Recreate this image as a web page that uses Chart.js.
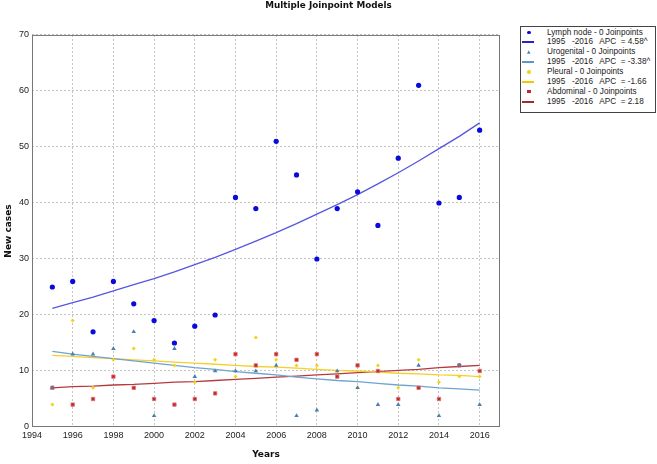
<!DOCTYPE html>
<html>
<head>
<meta charset="utf-8">
<script src="https://cdn.jsdelivr.net/npm/chart.js@4.4.1/dist/chart.umd.min.js"></script>
<style>
  body { margin: 0; background: #fff; }
  #wrap { position: relative; width: 657px; height: 464px; }
  #legend {
    position: absolute; left: 520px; top: 26px; width: 136px; height: 87px;
    border: 1px solid #444; background: #fff;
    font: 8.2px "Liberation Sans", Arial, sans-serif; color: #222;
    padding-top: 0.5px; box-sizing: border-box;
  }
  .row { position: relative; height: 9.9px; line-height: 9.9px; white-space: pre; padding-left: 26px; }
  .mk { position: absolute; left: 6px; top: 3px; width: 3.5px; height: 3.5px; }
  .ln { position: absolute; left: 1px; top: 4px; width: 12px; height: 2px; }
</style>
</head>
<body>
<div id="wrap">
  <canvas id="chart"></canvas>
  <div id="legend"></div>
</div>
<script>
const years = [1995, 1996, 1997, 1998, 1999, 2000, 2001, 2002, 2003, 2004, 2005,
               2006, 2007, 2008, 2009, 2010, 2011, 2012, 2013, 2014, 2015, 2016];

// observed cases
const lymphNode  = [25, 26, 17, 26, 22, 19, 15, 18, 20, 41, 39, 51, 45, 30, 39, 42, 36, 48, 61, 40, 41, 53];
const urogenital = [7, 13, 13, 14, 17, 2, 14, 9, 10, 10, 10, 11, 2, 3, 10, 7, 4, 4, 11, 2, 11, 4];
const pleural    = [4, 19, 7, 12, 14, 12, 11, 8, 12, 9, 16, 12, 11, 11, 10, 7, 11, 7, 12, 8, 9, 9];
const abdominal  = [7, 4, 5, 9, 7, 5, 4, 5, 6, 13, 11, 13, 12, 13, 9, 11, 10, 5, 7, 5, 11, 10];

// fitted joinpoint models (0 joinpoints)
const lymphFit  = [21.2, 22.2, 23.2, 24.3, 25.4, 26.5, 27.7, 29.0, 30.3, 31.7, 33.2,
                   34.7, 36.3, 38.0, 39.7, 41.5, 43.4, 45.4, 47.5, 49.7, 51.9, 54.3];
const uroFit    = [13.5, 13.0, 12.6, 12.2, 11.8, 11.4, 11.0, 10.6, 10.3, 9.9, 9.6,
                   9.3, 8.9, 8.6, 8.3, 8.1, 7.8, 7.5, 7.3, 7.0, 6.8, 6.6];
const pleuralFit = [12.8, 12.6, 12.4, 12.2, 12.0, 11.8, 11.6, 11.4, 11.2, 11.0, 10.8,
                    10.7, 10.5, 10.3, 10.1, 10.0, 9.8, 9.6, 9.5, 9.3, 9.2, 9.0];
const abdFit    = [7.0, 7.2, 7.3, 7.5, 7.6, 7.8, 8.0, 8.1, 8.3, 8.5, 8.7,
                   8.9, 9.1, 9.3, 9.5, 9.7, 9.9, 10.1, 10.3, 10.6, 10.8, 11.0];

const seriesNames = ['Lymph node - 0 Joinpoints', 'Urogenital - 0 Joinpoints',
                     'Pleural - 0 Joinpoints', 'Abdominal - 0 Joinpoints'];
const fitLabels = ['1995   -2016   APC  = 4.58^', '1995   -2016   APC  = -3.38^',
                   '1995   -2016   APC  = -1.66', '1995   -2016   APC  = 2.18'];

const xTicks = [1994, 1996, 1998, 2000, 2002, 2004, 2006, 2008, 2010, 2012, 2014, 2016];

const markerColors = ['#0a0adc', '#4a7fae', '#f2d21a', '#c0282e'];
const lineColors = ['#5656e0', '#6fa3d2', '#f5cf2a', '#b8393c'];
const legendLineColors = ['#2424c8', '#5b95cc', '#f2c800', '#a8282c'];

function pts(arr) {
  return arr.map((v, i) => ({ x: years[i], y: v }));
}

const frame = {
  id: 'frame',
  afterDraw(chart) {
    const a = chart.chartArea, c = chart.ctx;
    c.save();
    c.strokeStyle = '#777';
    c.lineWidth = 1;
    c.strokeRect(a.left + 0.5, a.top + 0.5, a.right - a.left - 1, a.bottom - a.top - 1);
    c.restore();
  }
};

const ctx = document.getElementById('chart').getContext('2d');
new Chart(ctx, {
  type: 'scatter',
  data: {
    datasets: [
      { label: seriesNames[0], data: pts(lymphNode), pointStyle: 'circle', pointRadius: 2.6,
        backgroundColor: markerColors[0], borderColor: markerColors[0], borderWidth: 0 },
      { label: seriesNames[1], data: pts(urogenital), pointStyle: 'triangle', pointRadius: 2.6,
        backgroundColor: markerColors[1], borderColor: markerColors[1], borderWidth: 0 },
      { label: seriesNames[2], data: pts(pleural), pointStyle: 'rectRot', pointRadius: 2,
        backgroundColor: markerColors[2], borderColor: markerColors[2], borderWidth: 0 },
      { label: seriesNames[3], data: pts(abdominal), pointStyle: 'rect', pointRadius: 2.4,
        backgroundColor: markerColors[3], borderColor: '#e07070', borderWidth: 0.8 },
      { label: fitLabels[0], data: pts(lymphFit), showLine: true, pointRadius: 0,
        borderColor: lineColors[0], borderWidth: 1.3 },
      { label: fitLabels[1], data: pts(uroFit), showLine: true, pointRadius: 0,
        borderColor: lineColors[1], borderWidth: 1.3 },
      { label: fitLabels[2], data: pts(pleuralFit), showLine: true, pointRadius: 0,
        borderColor: lineColors[2], borderWidth: 1.3 },
      { label: fitLabels[3], data: pts(abdFit), showLine: true, pointRadius: 0,
        borderColor: lineColors[3], borderWidth: 1.3 }
    ]
  },
  options: {
    responsive: true,
    maintainAspectRatio: false,
    animation: false,
    scales: {
      x: {
        type: 'linear', min: 1994, max: 2017,
        afterFit: s => { s.height = 37; },
        afterBuildTicks: s => { s.ticks = xTicks.map(v => ({ value: v })); },
        ticks: { callback: v => String(v), font: { size: 9, family: 'Liberation Sans' },
                 color: '#222', padding: 3, maxRotation: 0 },
        grid: { color: '#c4c4c4', drawTicks: false },
        border: { display: false, dash: [2, 2] },
        title: { display: true, text: 'Years', color: '#111',
                 font: { size: 9, weight: 'bold', family: 'DejaVu Sans' }, padding: { top: 0, bottom: 4 } }
      },
      y: {
        min: 0, max: 70,
        afterFit: s => { s.width = 32; },
        ticks: { stepSize: 10, font: { size: 9, family: 'Liberation Sans' }, color: '#222', padding: 3 },
        grid: { color: '#c4c4c4', drawTicks: false },
        border: { display: false, dash: [2, 2] },
        title: { display: true, text: 'New cases', color: '#111',
                 font: { size: 9, weight: 'bold', family: 'DejaVu Sans' }, padding: { top: 3, bottom: 2 } }
      },
      // empty right-hand band that holds the legend box
      side: {
        type: 'linear', position: 'right', display: true,
        afterFit: s => { s.width = 157; },
        ticks: { display: false },
        grid: { display: false },
        border: { display: false }
      }
    },
    plugins: {
      legend: { display: false },
      tooltip: { enabled: false },
      title: {
        display: true, text: 'Multiple Joinpoint Models', color: '#111',
        font: { size: 8.8, weight: 'bold', family: 'DejaVu Sans' },
        padding: { top: 0, bottom: 24.4 }
      }
    }
  },
  plugins: [frame]
});

// legend box: marker line + fitted line for each series
const legend = document.getElementById('legend');
seriesNames.forEach((name, i) => {
  const r1 = document.createElement('div');
  r1.className = 'row';
  r1.textContent = name;
  const mk = document.createElement('span');
  mk.className = 'mk';
  mk.style.background = markerColors[i];
  if (i === 0 || i === 2) mk.style.borderRadius = '50%';
  if (i === 1) mk.style.clipPath = 'polygon(50% 0, 100% 100%, 0 100%)';
  r1.appendChild(mk);
  legend.appendChild(r1);

  const r2 = document.createElement('div');
  r2.className = 'row';
  r2.textContent = fitLabels[i];
  const ln = document.createElement('span');
  ln.className = 'ln';
  ln.style.background = legendLineColors[i];
  r2.appendChild(ln);
  legend.appendChild(r2);
});
</script>
</body>
</html>
